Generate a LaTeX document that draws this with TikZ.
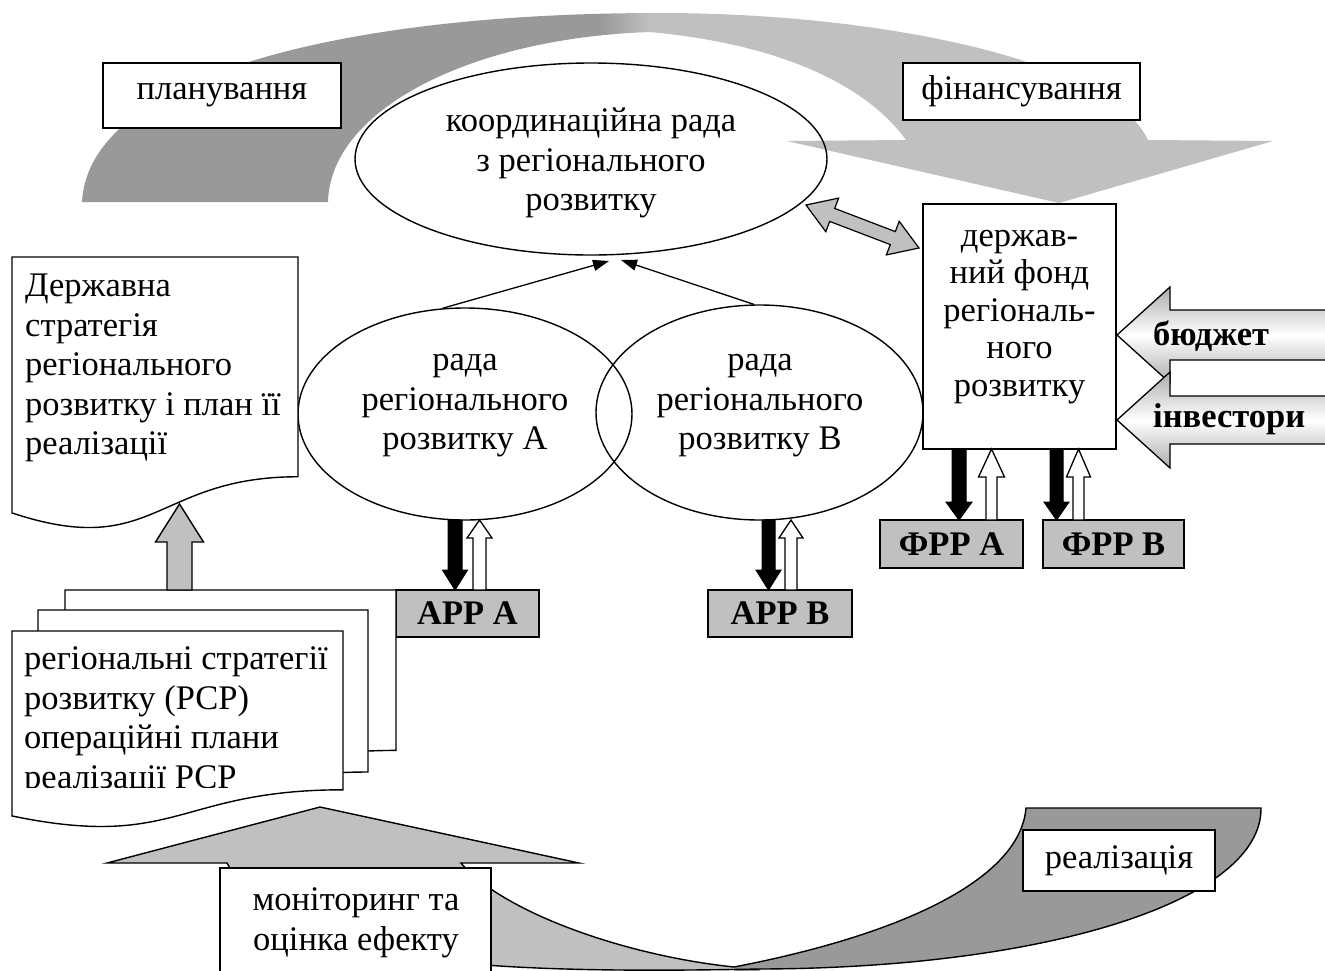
\documentclass[tikz,border=0pt]{standalone}
\usepackage{fontspec}
\setmainfont{Liberation Serif}
\usetikzlibrary{arrows.meta,shapes.geometric}
\definecolor{dg}{HTML}{999999}
\definecolor{lg}{HTML}{C0C0C0}
\newcommand\vblock[7]{\draw[#1] ({#2-#6},#3) -- ({#2-#6},#4) -- ({#2-#7},#4) -- (#2,#5) -- ({#2+#7},#4) -- ({#2+#6},#4) -- ({#2+#6},#3) -- cycle;}
\newcommand\docshape[5]{\draw[#1] (#2,#3) -- ({#2+#4},#3) -- ({#2+#4},{#3+0.802*#5}) .. controls ({#2+0.5*#4},{#3+0.802*#5}) and ({#2+0.5*#4},{#3+1.1075*#5}) .. (#2,{#3+0.934*#5}) -- cycle;}
\begin{document}
\begin{tikzpicture}[x=1pt,y=-1pt,
  f/.style={font=\fontsize{34.5}{39.5}\selectfont},
  fb/.style={font=\fontsize{34.5}{39.5}\selectfont\bfseries},
  txt/.style={f, align=center, inner sep=0pt},
  ltxt/.style={f, align=left, inner sep=0pt},
  wbox/.style={draw, fill=white, line width=1.4pt, inner sep=0pt},
  gbox/.style={draw, fill=lg, line width=1.4pt, inner sep=0pt, fb},
  oval/.style={ellipse, draw, line width=1.4pt, inner sep=0pt},
  wdoc/.style={draw, fill=white, line width=1.4pt},
  blk/.style={fill=black, draw=black, line width=1pt},
  hol/.style={fill=white, draw=black, line width=1.3pt},
  gry/.style={fill=lg, draw=black, line width=1.4pt},
  conn/.style={line width=1.3pt, -{Triangle[length=16pt,width=11pt]}}
]
\useasboundingbox (0,0) rectangle (1325,970);
\fill[white] (0,0) rectangle (1325,970);
\clip (0,0) rectangle (1325,970);

% top curved arrow
\begin{scope}
\clip (82,202) .. controls (88,80) and (330,13) .. (660,13) .. controls (880,13) and (1110,60) .. (1148,140) -- (1273,141) -- (1059,203) -- (787,141) -- (906,140) .. controls (870,90) and (790,45) .. (650,32) .. controls (470,38) and (330,110) .. (328,202) -- cycle;
\fill[dg] (0,0) rectangle (601,260);
\shade[left color=dg, right color=lg] (600,0) rectangle (651,260);
\fill[lg] (650,0) rectangle (1325,260);
\end{scope}

\node[wbox, minimum width=238, minimum height=65, f] (plan) at (222,95.5) {планування};
\node[wbox, minimum width=237, minimum height=57, f] (fin) at (1021.5,91.5) {фінансування};

% coordination council
\node[oval, minimum width=472, minimum height=192] (coord) at (591,159) {};
\node[txt] (coordT) at (591,163) {координаційна рада\\з регіонального\\розвитку};

% regional councils
\node[oval, minimum width=334, minimum height=212] (ellA) at (465,414) {};
\node[oval, minimum width=327, minimum height=215] (ellB) at (759.5,412.5) {};
\node[txt] (ellAT) at (465,406) {рада\\регіонального\\розвитку А};
\node[txt] (ellBT) at (760,406) {рада\\регіонального\\розвитку В};
\coordinate (tA) at (609,261);
\coordinate (tB) at (621,260);
\draw[conn] (ellA.102) -- (tA);
\draw[conn] (ellB.93) -- (tB);

% fund
\node[wbox, minimum width=193, minimum height=245] (fund) at (1019.5,326.5) {};
\node[txt, font=\fontsize{34.5}{37.5}\selectfont] (fundT) at (1019.5,317) {держав-\\ний фонд\\регіональ-\\ного\\розвитку};

% double arrow coordination <-> fund
\draw[gry, line width=1.2pt] (806,205) -- (825.8,231.7) -- (829.7,221.4) -- (890.3,244.6) -- (886.4,254.9) -- (919,248) -- (899.2,221.3) -- (895.3,231.6) -- (834.7,208.4) -- (838.6,198.1) -- cycle;

% budget / investors arrows
\shadedraw[top color=gray!65, bottom color=gray!65, middle color=white, draw=black, line width=1.3pt] (1117,335) -- (1170,287) -- (1170,310) -- (1340,310) -- (1340,360) -- (1170,360) -- (1170,383) -- cycle;
\shadedraw[top color=gray!65, bottom color=gray!65, middle color=white, draw=black, line width=1.3pt] (1117,420) -- (1170,372) -- (1170,396) -- (1340,396) -- (1340,444) -- (1170,444) -- (1170,468) -- cycle;
\node[fb, anchor=west, inner sep=0pt] (bud) at (1153,336) {бюджет};
\node[fb, anchor=west, inner sep=0pt] (inv) at (1153,419) {інвестори};

% agencies and funds
\node[gbox, minimum width=143, minimum height=47] (arrA) at (467.5,613.5) {АРР А};
\node[gbox, minimum width=144, minimum height=47] (arrB) at (780,613.5) {АРР В};
\node[gbox, minimum width=143, minimum height=48] (frrA) at (951.5,544) {ФРР А};
\node[gbox, minimum width=141, minimum height=48] (frrB) at (1113.5,544) {ФРР В};

\vblock{blk}{455}{520}{570}{590}{7}{12.5}
\vblock{hol}{479.5}{590}{538}{520}{6.5}{12.5}
\vblock{blk}{768.5}{520}{570}{590}{6.5}{12.5}
\vblock{hol}{791}{590}{538}{520}{6}{12}
\vblock{blk}{959}{449}{502}{520}{7}{13}
\vblock{hol}{991.5}{520}{477}{449}{5.5}{13}
\vblock{blk}{1056.5}{449}{502}{520}{6.5}{12.5}
\vblock{hol}{1078.5}{520}{477}{449}{5.5}{12}

% state strategy document
\docshape{wdoc}{12}{257}{286}{274}
\node[ltxt, anchor=west] (dsT) at (25,368) {Державна\\стратегія\\регіонального\\розвитку і план її\\реалізації};

% regional strategies stack
\docshape{wdoc}{65}{590}{331}{200}
\docshape{wdoc}{38}{610}{330}{202}
\docshape{wdoc}{12}{631}{331}{198}
\begin{scope}
\clip (0,640) rectangle (345,787);
\node[ltxt, anchor=west] (rspT) at (24,721) {регіональні стратегії\\розвитку (РСР)\\операційні плани\\реалізації РСР};
\end{scope}
\vblock{gry}{179.5}{590}{542}{504}{12.5}{24}

% bottom curved arrow
\fill[lg] (227,863) -- (107,863) -- (320,807) -- (579,863) -- (461,863) .. controls (500,910) and (620,955) .. (734,967) .. controls (900,935) and (1020,880) .. (1026,808) -- (1261,808) .. controls (1262,900) and (1050,968) .. (760,969) .. controls (450,975) and (280,960) .. (227,863) -- cycle;
\fill[dg] (1026,808) -- (1261,808) .. controls (1262,900) and (1050,968) .. (760,969) -- (760,990) -- (734,990) -- (734,967) .. controls (900,935) and (1020,880) .. (1026,808) -- cycle;
\draw[line width=1.4pt, line join=miter] (227,863) -- (107,863) -- (320,807) -- (579,863) -- (461,863) .. controls (500,910) and (620,955) .. (734,967) .. controls (900,935) and (1020,880) .. (1026,808) -- (1261,808) .. controls (1262,900) and (1050,968) .. (760,969) .. controls (450,975) and (280,960) .. (227,863) -- cycle;

\node[wbox, minimum width=271, minimum height=120] (mon) at (355.5,928) {};
\node[txt] (monT) at (356,923) {моніторинг та\\оцінка ефекту};
\node[wbox, minimum width=192, minimum height=61, f] (real) at (1119,860.5) {реалізація};
\end{tikzpicture}
\end{document}
